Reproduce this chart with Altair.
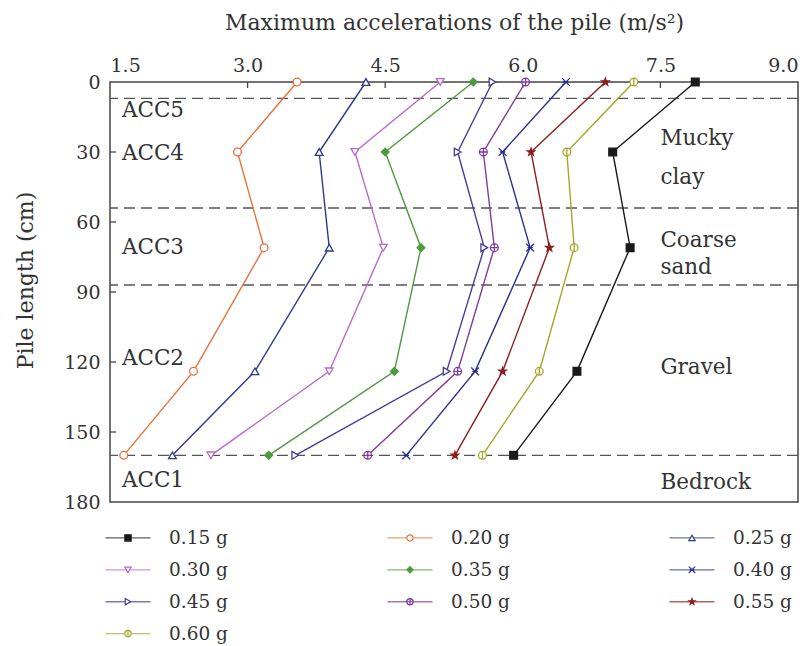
import altair as alt
import pandas as pd

# ---------------- data ----------------
depths = [0, 30, 71, 124, 160]
series = ["0.15g", "0.20g", "0.25g", "0.30g", "0.35g",
          "0.40g", "0.45g", "0.50g", "0.55g", "0.60g"]
labels = ["0.15 g", "0.20 g", "0.25 g", "0.30 g", "0.35 g",
          "0.40 g", "0.45 g", "0.50 g", "0.55 g", "0.60 g"]

acc_015 = [7.88, 6.98, 7.17, 6.59, 5.90]
acc_020 = [3.54, 2.89, 3.18, 2.41, 1.65]
acc_025 = [4.29, 3.78, 3.89, 3.08, 2.18]
acc_030 = [5.10, 4.17, 4.48, 3.89, 2.60]
acc_035 = [5.46, 4.50, 4.89, 4.60, 3.23]
acc_040 = [6.47, 5.78, 6.08, 5.48, 4.73]
acc_045 = [5.67, 5.29, 5.58, 5.17, 3.52]
acc_050 = [6.03, 5.57, 5.69, 5.29, 4.31]
acc_055 = [6.90, 6.09, 6.29, 5.78, 5.26]
acc_060 = [7.21, 6.48, 6.56, 6.18, 5.56]
all_acc = [acc_015, acc_020, acc_025, acc_030, acc_035,
           acc_040, acc_045, acc_050, acc_055, acc_060]

colors = ["#1a1a1a", "#E8703A", "#2E3A8C", "#B86ACB", "#4E9A3E",
          "#2B2F8F", "#4A3A99", "#7E3C9E", "#8E1E1E", "#A6A62A"]

STAR = ("M0,-1L0.235,-0.324L0.951,-0.309L0.380,0.124L0.588,0.809L0,0.4"
        "L-0.588,0.809L-0.380,0.124L-0.951,-0.309L-0.235,-0.324Z")
XMARK = "M-1,-1L1,1M-1,1L1,-1M-0.7,0L0.7,0"
CPLUS = "M-1,0A1,1,0,1,0,1,0A1,1,0,1,0,-1,0ZM-1,0L1,0M0,-1L0,1"
CBAR = "M-1,0A1,1,0,1,0,1,0A1,1,0,1,0,-1,0ZM0,-1L0,1"
shapes = ["square", "circle", "triangle-up", "triangle-down", "diamond",
          XMARK, "triangle-right", CPLUS, STAR, CBAR]
filled = [True, False, False, False, True, False, False, False, True, False]

# layer boundaries and annotations
boundaries = [7, 54, 87, 160]
acc_labels = ["ACC5", "ACC4", "ACC3", "ACC2", "ACC1"]
acc_label_x = [1.63, 1.63, 1.63, 1.63, 1.63]
acc_label_y = [12.5, 31, 71, 118.5, 171]
soil_labels = ["Mucky", "clay", "Coarse", "sand", "Gravel", "Bedrock"]
soil_label_x = [7.5, 7.5, 7.5, 7.5, 7.5, 7.5]
soil_label_y = [24.5, 41, 68, 79.5, 122.5, 172]

x_ticks = [1.5, 3.0, 4.5, 6.0, 7.5, 9.0]
x_inner_ticks = [3.0, 4.5, 6.0, 7.5]
y_ticks = [0, 30, 60, 90, 120, 150, 180]
y_inner_ticks = [30, 60, 90, 120, 150]

# ---------------- tables ----------------
rows = []
for s, vals, c, f in zip(series, all_acc, colors, filled):
    for d, v in zip(depths, vals):
        rows.append({"series": s, "depth": d, "acc": v,
                     "fillc": c if f else "#ffffff"})
df = pd.DataFrame(rows)

ann = pd.DataFrame({
    "t": acc_labels + soil_labels,
    "tx": acc_label_x + soil_label_x,
    "ty": acc_label_y + soil_label_y,
})

leg_df = pd.DataFrame({
    "series": series,
    "label": labels,
    "col": [i % 3 for i in range(len(series))],
    "row": [i // 3 for i in range(len(series))],
    "fillc": [c if f else "#ffffff" for c, f in zip(colors, filled)],
})

# ---------------- chart ----------------
FONT = "DejaVu Serif"
TXT = "#333333"
X_TITLE = "Maximum accelerations of the pile (m/s\u00b2)"
Y_TITLE = "Pile length (cm)"

xscale = alt.Scale(domain=[1.5, 9.0], nice=False, zero=False)
yscale = alt.Scale(domain=[0, 180], reverse=True, nice=False, zero=False)
color_scale = alt.Scale(domain=series, range=colors)
shape_scale = alt.Scale(domain=series, range=shapes)

xaxis = alt.Axis(orient="top", values=x_ticks, format=".1f", ticks=False,
                 domain=False, grid=False, labelPadding=7, titlePadding=22)
yaxis = alt.Axis(values=y_ticks, ticks=False, domain=False, grid=False,
                 labelPadding=10, titlePadding=26, titleY=198)

X = lambda f: alt.X(f, scale=xscale, axis=xaxis, title=X_TITLE)
Y = lambda f: alt.Y(f, scale=yscale, axis=yaxis, title=Y_TITLE)

dashed = alt.Chart(pd.DataFrame({"d": boundaries})).mark_rule(
    strokeDash=[11, 6], color="#555555", strokeWidth=1.3
).encode(y=Y("d:Q"))

top_ticks = alt.Chart(pd.DataFrame({"xt": x_inner_ticks})).mark_rule(
    color="#444444", strokeWidth=1.3
).encode(x=X("xt:Q"), y=alt.value(0), y2=alt.value(6))

left_ticks = alt.Chart(pd.DataFrame({"yt": y_inner_ticks})).mark_rule(
    color="#444444", strokeWidth=1.3
).encode(y=Y("yt:Q"), x=alt.value(0), x2=alt.value(6))

lines = alt.Chart(df).mark_line(strokeWidth=1.4).encode(
    x=X("acc:Q"), y=Y("depth:Q"),
    color=alt.Color("series:N", scale=color_scale, legend=None),
    order=alt.Order("depth:Q"),
)

points = alt.Chart(df).mark_point(size=60, filled=True, opacity=1, strokeWidth=1.3).encode(
    x=X("acc:Q"), y=Y("depth:Q"),
    shape=alt.Shape("series:N", scale=shape_scale, legend=None),
    stroke=alt.Stroke("series:N", scale=color_scale, legend=None),
    fill=alt.Fill("fillc:N", scale=None),
)

texts = alt.Chart(ann).mark_text(
    align="left", baseline="middle", font=FONT, fontSize=21.5, color=TXT
).encode(x=X("tx:Q"), y=Y("ty:Q"), text="t:N")

main = alt.layer(dashed, top_ticks, left_ticks, lines, points, texts).properties(
    width=688, height=420,
    view=alt.ViewBackground(stroke="#444444", strokeWidth=1.5),
)

legx = alt.Scale(domain=[-0.0638, 2.3759], nice=False, zero=False)
legy = alt.Scale(domain=[-0.5, 3.2], reverse=True, nice=False, zero=False)
leg_base = alt.Chart(leg_df).encode(
    x=alt.X("col:Q", scale=legx, axis=None),
    y=alt.Y("row:Q", scale=legy, axis=None),
)
leg_lines = leg_base.mark_tick(orient="horizontal", size=45, thickness=1.3).encode(
    color=alt.Color("series:N", scale=color_scale, legend=None)
)
leg_pts = leg_base.mark_point(size=40, filled=True, opacity=1, strokeWidth=1.2).encode(
    shape=alt.Shape("series:N", scale=shape_scale, legend=None),
    stroke=alt.Stroke("series:N", scale=color_scale, legend=None),
    fill=alt.Fill("fillc:N", scale=None),
)
leg_txt = leg_base.mark_text(
    align="left", baseline="middle", dx=41, font=FONT, fontSize=18.5, color=TXT
).encode(text="label:N")

legend = alt.layer(leg_lines, leg_pts, leg_txt).properties(
    width=688, height=118,
    view=alt.ViewBackground(strokeOpacity=0),
)

chart = alt.vconcat(main, legend, spacing=9).properties(
    padding={"left": 5, "right": 0, "top": 2, "bottom": 0}
).configure_axis(
    labelFont=FONT, titleFont=FONT, labelFontSize=19, titleFontSize=22,
    labelColor=TXT, titleColor=TXT, titleFontWeight="normal",
)

chart.save("out.html", embed_options={"renderer": "svg", "actions": False})
